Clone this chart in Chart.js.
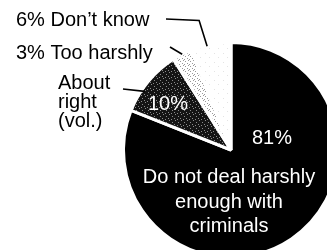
<!DOCTYPE html>
<html lang="en">
<head>
<meta charset="UTF-8" />
<title>Dealing with criminals</title>
<style>
  html, body { margin: 0; padding: 0; background: #fff; overflow: hidden; }
  #wrap { position: absolute; left: 0; top: 0; width: 345px; height: 265px; }
</style>
<script src="https://cdn.jsdelivr.net/npm/chart.js"></script>
</head>
<body>
<div id="wrap"><canvas id="pie" width="345" height="265"></canvas></div>
<script>
  const categories = ['Do not deal harshly enough with criminals', 'About right (vol.)', 'Too harshly', 'Don’t know'];
  const values = [81, 10, 3, 6];
  // how the long labels are broken over lines in the picture
  const insideLines = ['Do not deal harshly', 'enough with', 'criminals'];
  const aboutLines = ['About', 'right', '(vol.)'];

  const ctx = document.getElementById('pie').getContext('2d');

  // small repeating dot tiles to look like the printed screens
  function stipple(base, dot, size, dots) {
    const c = document.createElement('canvas');
    c.width = c.height = size;
    const g = c.getContext('2d');
    g.fillStyle = base;
    g.fillRect(0, 0, size, size);
    g.fillStyle = dot;
    dots.forEach(([x, y]) => g.fillRect(x, y, 1, 1));
    return ctx.createPattern(c, 'repeat');
  }
  const darkScreen = stipple('#141414', '#8a8a8a', 6, [[1, 0], [4, 2], [0, 4], [3, 5]]);
  const lightScreen = stipple('#ffffff', '#999999', 5, [[0, 1], [3, 0], [2, 3], [4, 4]]);
  const faintScreen = stipple('#ffffff', '#e4e4e4', 9, [[2, 3], [7, 8]]);

  const labelPlugin = {
    id: 'labels',
    afterDatasetsDraw(chart) {
      const arcs = chart.getDatasetMeta(0).data;
      const cx = arcs[0].x, cy = arcs[0].y, r = arcs[0].outerRadius;
      const at = (i, f, k) => {
        const a = arcs[i].startAngle + (arcs[i].endAngle - arcs[i].startAngle) * f;
        return [cx + r * k * Math.cos(a), cy + r * k * Math.sin(a)];
      };
      const c = chart.ctx;
      c.save();
      c.font = '20px "Liberation Sans", Arial, sans-serif';
      c.textBaseline = 'alphabetic';

      // text inside the slices
      c.fillStyle = '#fff';
      c.textAlign = 'center';
      c.fillText(values[0] + '%', cx + 41, cy - 6);
      insideLines.forEach((t, j) => c.fillText(t, cx - 2, cy + 33 + j * 24.5));
      c.fillText(values[1] + '%', cx - 63, cy - 40);

      // text outside
      c.fillStyle = '#000';
      c.textAlign = 'left';
      c.fillText(values[3] + '% ' + categories[3], 16, 25.5);
      c.fillText(values[2] + '% ' + categories[2], 16, 58.5);
      aboutLines.forEach((t, j) => c.fillText(t, 58, 89 + j * 19));

      // leader lines
      c.strokeStyle = '#000';
      c.lineWidth = 1.6;
      let e = at(3, 0.4, 0.99);
      c.beginPath();
      c.moveTo(166, 19);
      c.lineTo(e[0] - 8, 20.5);
      c.lineTo(e[0], e[1]);
      c.stroke();
      e = at(2, 0.5, 1);
      c.beginPath();
      c.moveTo(170, 47);
      c.lineTo(e[0], e[1]);
      c.stroke();
      e = at(1, 0.35, 0.97);
      c.beginPath();
      c.moveTo(123, 89);
      c.lineTo(e[0], e[1]);
      c.stroke();
      c.restore();
    }
  };

  new Chart(ctx, {
    type: 'pie',
    data: {
      labels: categories,
      datasets: [{
        data: values,
        backgroundColor: ['#000', darkScreen, lightScreen, faintScreen],
        borderColor: '#fff',
        borderWidth: 3
      }]
    },
    options: {
      responsive: false,
      animation: false,
      events: [],
      layout: { padding: { left: 122, top: 41, right: 5, bottom: 6 } },
      plugins: {
        legend: { display: false },
        tooltip: { enabled: false }
      }
    },
    plugins: [labelPlugin]
  });
</script>
</body>
</html>
